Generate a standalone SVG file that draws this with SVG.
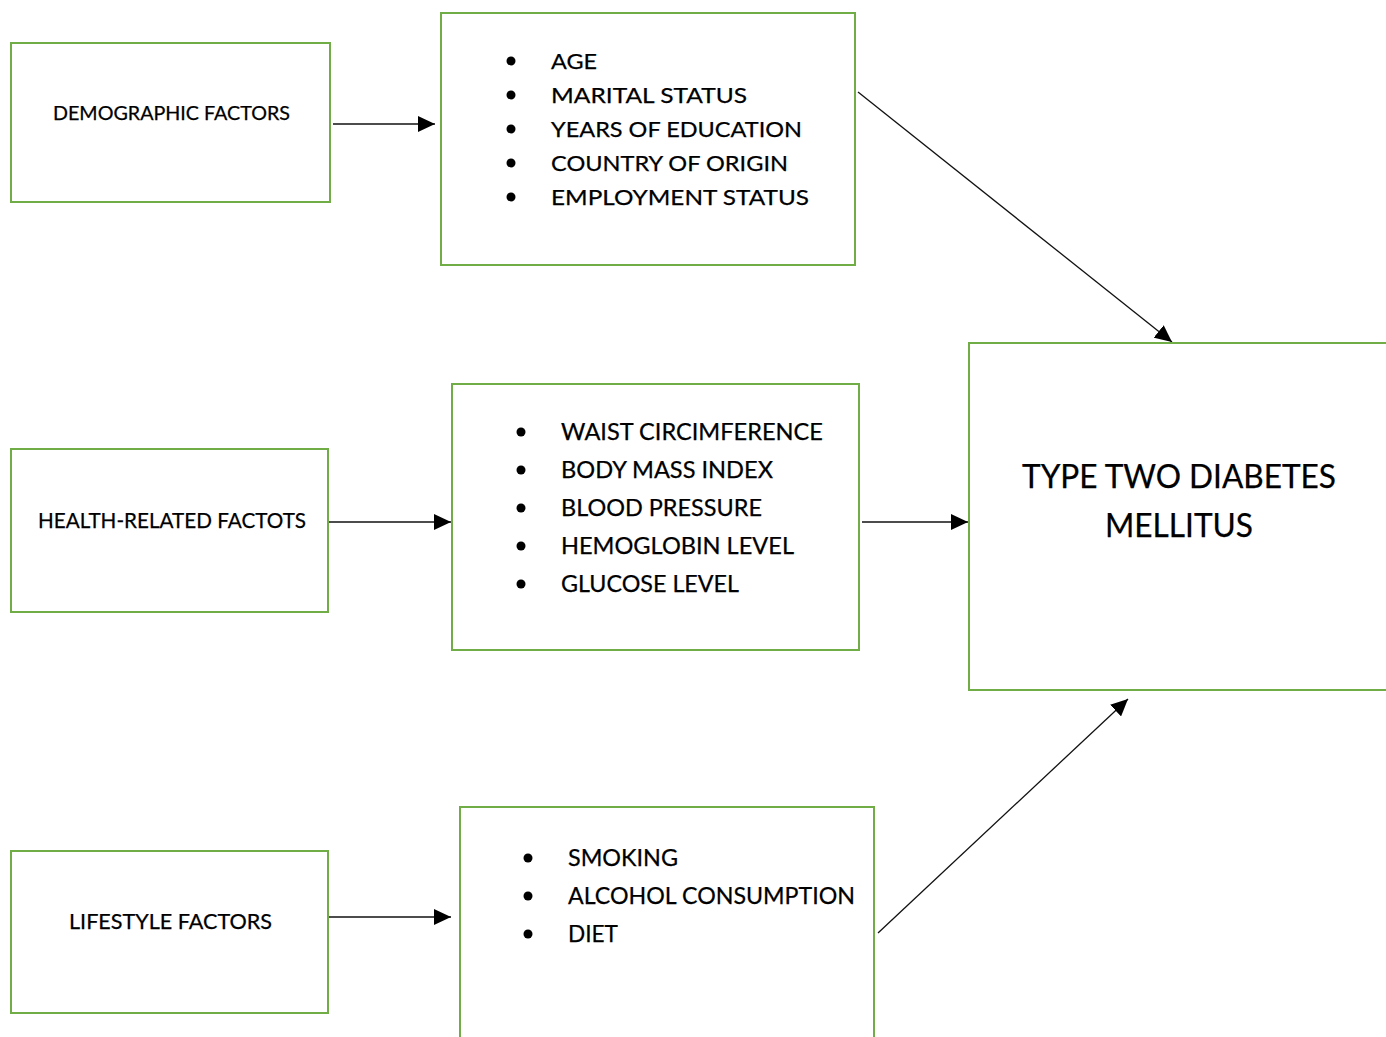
<svg xmlns="http://www.w3.org/2000/svg" width="1386" height="1037" viewBox="0 0 1386 1037">
<style>
.box{fill:#fff;stroke:#70AD47;stroke-width:2}
.t{font-family:Lato,"Open Sans","Liberation Sans",sans-serif;fill:#000;stroke:#000;stroke-width:0.25}
.c{stroke:#111;stroke-width:1.3;fill:none}
.b{fill:#000}
</style>
<defs>
<marker id="ah" markerUnits="userSpaceOnUse" markerWidth="18" markerHeight="16" viewBox="0 0 18 16" refX="17" refY="8" orient="auto">
<path d="M0,0 L17,8 L0,16 Z" fill="#000"/>
</marker>
</defs>
<rect width="1386" height="1037" fill="#fff"/>
<g id="connectors">
<line class="c" x1="333" y1="124" x2="435" y2="124" marker-end="url(#ah)"/>
<line class="c" x1="325" y1="522" x2="451" y2="522" marker-end="url(#ah)"/>
<line class="c" x1="325" y1="917" x2="451" y2="917" marker-end="url(#ah)"/>
<line class="c" x1="862" y1="522" x2="968" y2="522" marker-end="url(#ah)"/>
<line class="c" x1="858" y1="92" x2="1172" y2="342" marker-end="url(#ah)"/>
<line class="c" x1="878" y1="933" x2="1128" y2="699" marker-end="url(#ah)"/>
</g>
<g id="demographic">
<rect class="box" x="11" y="43" width="319" height="159"/>
<text class="t" x="53" y="120" font-size="18.5" textLength="237" lengthAdjust="spacingAndGlyphs">DEMOGRAPHIC FACTORS</text>
</g>
<g id="demographic-list">
<rect class="box" x="441" y="13" width="414" height="252"/>
<circle class="b" cx="511" cy="61" r="4.5"/>
<circle class="b" cx="511" cy="95" r="4.5"/>
<circle class="b" cx="511" cy="129" r="4.5"/>
<circle class="b" cx="511" cy="163" r="4.5"/>
<circle class="b" cx="511" cy="197" r="4.5"/>
<text class="t" x="551" y="69" font-size="22" textLength="46" lengthAdjust="spacingAndGlyphs">AGE</text>
<text class="t" x="551" y="103" font-size="22" textLength="196" lengthAdjust="spacingAndGlyphs">MARITAL STATUS</text>
<text class="t" x="551" y="137" font-size="22" textLength="251" lengthAdjust="spacingAndGlyphs">YEARS OF EDUCATION</text>
<text class="t" x="551" y="171" font-size="22" textLength="237" lengthAdjust="spacingAndGlyphs">COUNTRY OF ORIGIN</text>
<text class="t" x="551" y="205" font-size="22" textLength="258" lengthAdjust="spacingAndGlyphs">EMPLOYMENT STATUS</text>
</g>
<g id="health">
<rect class="box" x="11" y="449" width="317" height="163"/>
<text class="t" x="38" y="528" font-size="21" textLength="268" lengthAdjust="spacingAndGlyphs">HEALTH-RELATED FACTOTS</text>
</g>
<g id="health-list">
<rect class="box" x="452" y="384" width="407" height="266"/>
<circle class="b" cx="521" cy="432" r="4.5"/>
<circle class="b" cx="521" cy="470" r="4.5"/>
<circle class="b" cx="521" cy="508" r="4.5"/>
<circle class="b" cx="521" cy="546" r="4.5"/>
<circle class="b" cx="521" cy="584" r="4.5"/>
<text class="t" x="561" y="440" font-size="22.5" textLength="262" lengthAdjust="spacingAndGlyphs">WAIST CIRCIMFERENCE</text>
<text class="t" x="561" y="478" font-size="22.5" textLength="212" lengthAdjust="spacingAndGlyphs">BODY MASS INDEX</text>
<text class="t" x="561" y="516" font-size="22.5" textLength="201" lengthAdjust="spacingAndGlyphs">BLOOD PRESSURE</text>
<text class="t" x="561" y="554" font-size="22.5" textLength="233" lengthAdjust="spacingAndGlyphs">HEMOGLOBIN LEVEL</text>
<text class="t" x="561" y="592" font-size="22.5" textLength="178" lengthAdjust="spacingAndGlyphs">GLUCOSE LEVEL</text>
</g>
<g id="lifestyle">
<rect class="box" x="11" y="851" width="317" height="162"/>
<text class="t" x="69" y="929" font-size="20.5" textLength="203" lengthAdjust="spacingAndGlyphs">LIFESTYLE FACTORS</text>
</g>
<g id="lifestyle-list">
<rect class="box" x="460" y="807" width="414" height="245"/>
<circle class="b" cx="528" cy="858" r="4.5"/>
<circle class="b" cx="528" cy="896" r="4.5"/>
<circle class="b" cx="528" cy="934" r="4.5"/>
<text class="t" x="568" y="866" font-size="24" textLength="110" lengthAdjust="spacingAndGlyphs">SMOKING</text>
<text class="t" x="568" y="904" font-size="24" textLength="287" lengthAdjust="spacingAndGlyphs">ALCOHOL CONSUMPTION</text>
<text class="t" x="568" y="942" font-size="24" textLength="50" lengthAdjust="spacingAndGlyphs">DIET</text>
</g>
<g id="t2dm">
<rect class="box" x="969" y="343" width="430" height="347"/>
<text class="t" x="1022" y="488" font-size="32" textLength="314" lengthAdjust="spacingAndGlyphs">TYPE TWO DIABETES</text>
<text class="t" x="1105" y="537" font-size="32" textLength="148" lengthAdjust="spacingAndGlyphs">MELLITUS</text>
</g>
</svg>
